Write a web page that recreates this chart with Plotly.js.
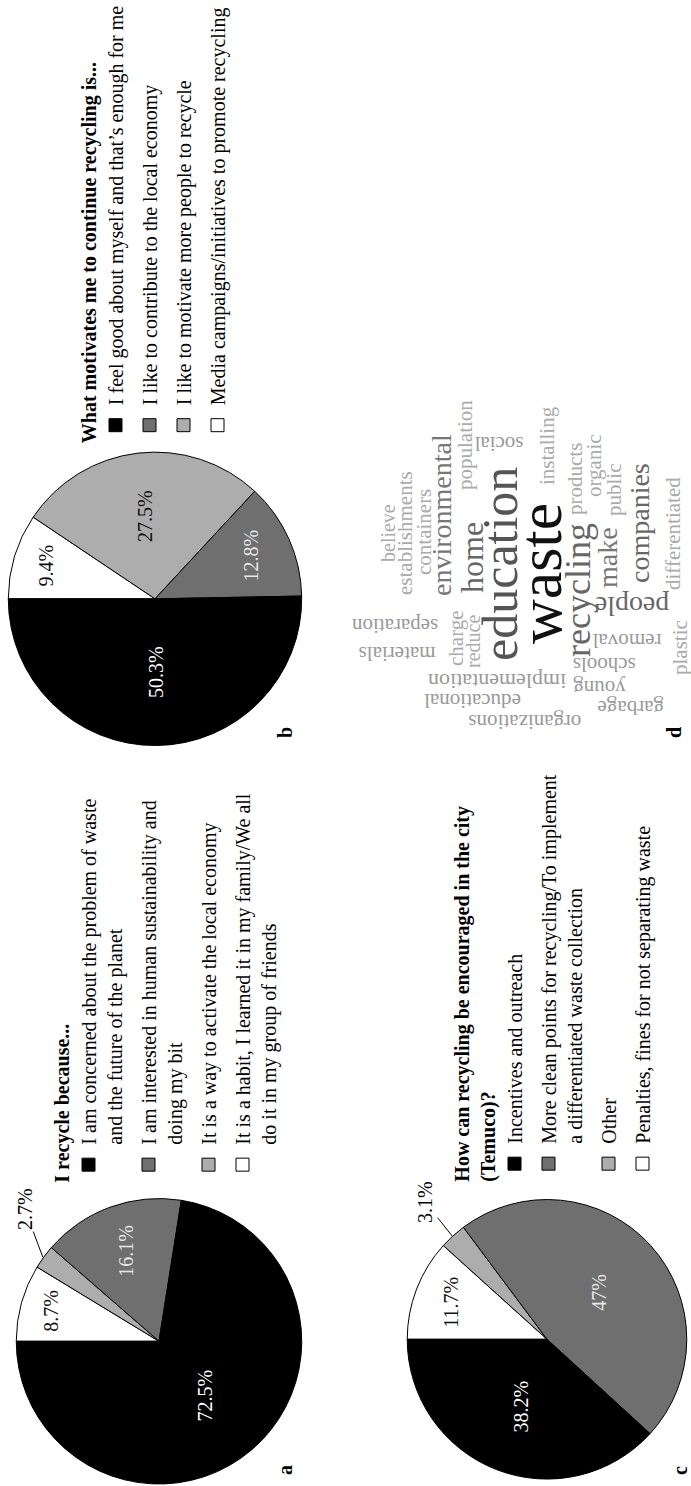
<!DOCTYPE html>
<html>
<head>
<meta charset="utf-8">
<script src="https://cdn.plot.ly/plotly-3.0.1.min.js"></script>
<style>
html,body{margin:0;padding:0;background:#fff;overflow:hidden;width:691px;height:1486px;}
#wrap{position:absolute;left:0;top:0;width:1486px;height:691px;transform-origin:0 0;transform:translate(0px,1486px) rotate(-90deg);}
</style>
</head>
<body>
<div id="wrap"></div>
<script>
// ---------- DATA ----------
const sliceColors = ['#000000', '#6f6f6f', '#adadad', '#ffffff'];
const insideTextColors = ['#ffffff', '#e6e6e6', '#111111', '#111111'];

// Panel a
const aTitle = '<b>I recycle because...</b>';
const aLabels = [
  'I am concerned about the problem of waste<br>and the future of the planet',
  'I am interested in human sustainability and<br>doing my bit',
  'It is a way to activate the local economy',
  'It is a habit, I learned it in my family/We all<br>do it in my group of friends'
];
const aValues = [72.5, 16.1, 2.7, 8.7];

// Panel b
const bTitle = '<b>What motivates me to continue recycling is...</b>';
const bLabels = [
  'I feel good about myself and that’s enough for me',
  'I like to contribute to the local economy',
  'I like to motivate more people to recycle',
  'Media campaigns/initiatives to promote recycling'
];
const bValues = [50.3, 12.8, 27.5, 9.4];

// Panel c
const cTitle = '<b>How can recycling be encouraged in the city<br>(Temuco)?</b>';
const cLabels = [
  'Incentives and outreach',
  'More clean points for recycling/To implement<br>a differentiated waste collection',
  'Other',
  'Penalties, fines for not separating waste'
];
const cValues = [38.2, 47, 3.1, 11.7];

// Panel d: word cloud (word, relative size, orientation, layout position in cloud units)
const words = ['waste','education','recycling','home','environmental','people','make','companies',
  'differentiated','plastic','garbage','young','schools','removal','organizations','educational',
  'implementation','reduce','charge','materials','separation','believe','establishments','containers',
  'population','social','installing','products','organic','public'];
const wordSize = [62,50,36,32,28,28,28,28,21,21,21,21,21,21,21,21,22,20,21,21,21,20,21,21,21,21,21,21,21,21];
const wordAngle = [0,0,0,0,0,-90,0,0,0,0,-90,-90,-90,-90,-90,-90,-90,0,0,-90,-90,0,0,0,0,-90,0,0,0,0];
const wordColor = ['#111111','#555555','#666666','#666666','#777777','#666666','#777777','#666666',
  '#aaaaaa','#aaaaaa','#999999','#999999','#999999','#999999','#999999','#999999',
  '#999999','#aaaaaa','#aaaaaa','#999999','#999999','#aaaaaa','#aaaaaa','#aaaaaa',
  '#aaaaaa','#999999','#aaaaaa','#aaaaaa','#aaaaaa','#aaaaaa'];
const wordX = [50.3,52.9,45.4,54.9,66.9,40.6,54.9,64.6,61.7,28.9,11.4,17.1,23.7,30.6,7.4,13.4,
  18.9,30.6,31.7,27.1,35.1,61.7,61.7,62.0,87.1,87.4,87.1,77.4,81.4,74.3];
const wordY = [43.8,55.4,32.8,63.5,72.2,17.1,24.1,14.8,5.2,3.2,17.4,26.7,25.2,18.6,48.1,63.5,
  56.2,63.2,68.1,85.2,85.8,87.8,82.9,77.4,65.5,55.7,41.7,33.6,28.1,22.3];

const panelLetters = ['a','b','c','d'];

// ---------- BUILD ----------
const FONT = 'Liberation Serif, Times New Roman, serif';
const W = 1486, H = 691;
const SMALL = 5; // slices below this share get an outside label with a leader line

function rev(a) { return a.slice().reverse(); }

// slices drawn clockwise from 12 o'clock in reverse category order,
// so the first category ends at 12 o'clock going counter-clockwise
function pieTrace(values, labels, domain) {
  const pos = values.map(v => v < SMALL ? 'none' : 'inside');
  return {
    type: 'pie', values: rev(values), labels: rev(labels), sort: false,
    direction: 'clockwise', rotation: 0,
    marker: {colors: rev(sliceColors), line: {color: '#000', width: 1}},
    texttemplate: '%{value}%', textposition: rev(pos),
    insidetextorientation: 'horizontal',
    insidetextfont: {family: FONT, size: 20, color: rev(insideTextColors)},
    showlegend: false, hoverinfo: 'none', domain: domain
  };
}

// leader-line labels for small slices, anchored on the slice's outer edge
function smallSliceLabels(values, domain, off) {
  const vals = rev(values);
  const total = vals.reduce((s, v) => s + v, 0);
  const cx = W * (domain.x[0] + domain.x[1]) / 2;
  const cy = H * (1 - (domain.y[0] + domain.y[1]) / 2);
  const r = Math.min(W * (domain.x[1] - domain.x[0]), H * (domain.y[1] - domain.y[0])) / 2;
  const out = [];
  let cum = 0;
  vals.forEach(v => {
    const mid = (cum + v / 2) / total * 2 * Math.PI;
    cum += v;
    if (v < SMALL) {
      out.push({
        xref: 'paper', yref: 'paper',
        x: (cx + r * Math.sin(mid)) / W, y: 1 - (cy - r * Math.cos(mid)) / H,
        text: v + '%', showarrow: true, arrowhead: 0, arrowwidth: 1, arrowcolor: '#000',
        standoff: 0, ax: off[0], ay: off[1],
        font: {family: FONT, size: 20, color: '#000'}
      });
    }
  });
  return out;
}

function legendTraces(labels, legendId, key) {
  return labels.map((lab, i) => ({
    type: 'scatter', mode: 'markers', x: [null], y: [null],
    name: lab, legend: legendId, legendgroup: key + i,
    marker: {symbol: 'square', size: 13, color: sliceColors[i], line: {color: '#000', width: 1}},
    hoverinfo: 'none', xaxis: 'x', yaxis: 'y'
  }));
}

const domA = {x: [2 / W, 290 / W], y: [388 / H, 676 / H]};
const domB = {x: [747 / W, 1043 / W], y: [388 / H, 684 / H]};
const domC = {x: [7 / W, 289 / W], y: [3 / H, 285 / H]};

const data = [
  pieTrace(aValues, aLabels, domA),
  pieTrace(bValues, bLabels, domB),
  pieTrace(cValues, cLabels, domC)
].concat(legendTraces(aLabels, 'legend', 'a'))
 .concat(legendTraces(bLabels, 'legend2', 'b'))
 .concat(legendTraces(cLabels, 'legend3', 'c'));

function legendLayout(title, x, yTop) {
  return {
    x: x / W, y: 1 - yTop / H, xanchor: 'left', yanchor: 'top',
    bgcolor: 'rgba(0,0,0,0)', borderwidth: 0,
    font: {family: FONT, size: 20, color: '#000'},
    title: {text: title, font: {family: FONT, size: 20, color: '#000'}},
    traceorder: 'grouped', tracegroupgap: 5, valign: 'top', itemclick: false, itemdoubleclick: false
  };
}

let annotations = words.map((w, i) => ({
  xref: 'x', yref: 'y', x: wordX[i], y: wordY[i], text: w, showarrow: false,
  textangle: wordAngle[i], font: {family: FONT, size: wordSize[i], color: wordColor[i]}
}));

annotations = annotations
  .concat(smallSliceLabels(aValues, domA, [48, -18]))
  .concat(smallSliceLabels(bValues, domB, [40, -20]))
  .concat(smallSliceLabels(cValues, domC, [34, -27]));

const letterPos = [[9, 285], [753, 285], [9, 680], [753, 674]];
panelLetters.forEach((L, i) => {
  annotations.push({
    xref: 'paper', yref: 'paper', x: letterPos[i][0] / W, y: 1 - letterPos[i][1] / H,
    xanchor: 'left', yanchor: 'middle', text: '<b>' + L + '</b>', showarrow: false,
    font: {family: FONT, size: 20, color: '#000'}
  });
});

const layout = {
  width: W, height: H, autosize: false,
  margin: {l: 0, r: 0, t: 0, b: 0},
  paper_bgcolor: '#fff', plot_bgcolor: 'rgba(0,0,0,0)',
  font: {family: FONT, color: '#000'},
  xaxis: {domain: [745 / W, 1095 / W], range: [0, 100], visible: false, fixedrange: true},
  yaxis: {domain: [0, 345 / H], range: [0, 100], visible: false, fixedrange: true},
  legend: legendLayout(aTitle, 304, 43),
  legend2: legendLayout(bTitle, 1050, 70),
  legend3: legendLayout(cTitle, 305, 443),
  annotations: annotations,
  showlegend: true
};

Plotly.newPlot('wrap', data, layout, {staticPlot: true, displayModeBar: false});
</script>
</body>
</html>
